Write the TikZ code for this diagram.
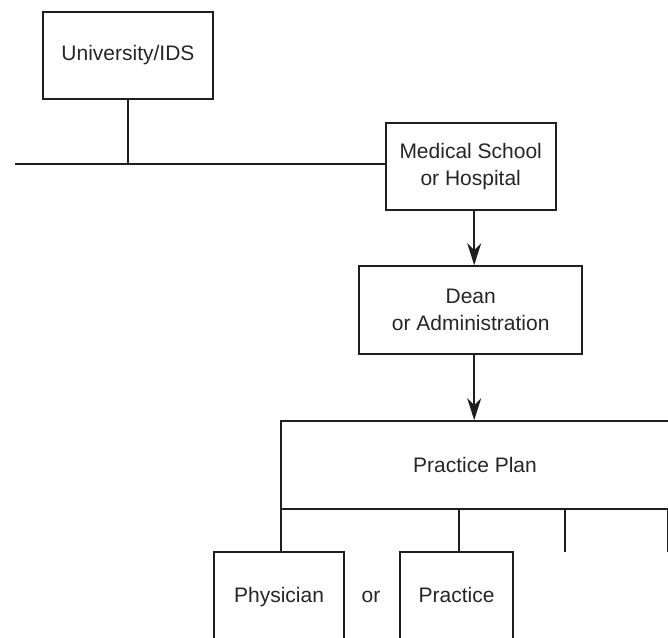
\documentclass[tikz,border=0pt]{standalone}
\usepackage{fontspec}
\setmainfont{Liberation Sans}
\usetikzlibrary{arrows.meta,calc}
\begin{document}
\begin{tikzpicture}[x=1pt,y=1pt,
  ink/.style={draw=black!88,line width=1.6pt},
  orgbox/.style={ink,rectangle,inner sep=0pt,align=center,text=black!85,
    font=\fontsize{21}{27}\selectfont},
  oneline/.style={text height=15pt,text depth=4.5pt},
  link/.style={ink},
  arr/.style={ink,-{Stealth[length=22pt,width=14pt,inset=7pt]}},
  label/.style={inner sep=0pt,text=black!85,font=\fontsize{21}{27}\selectfont}]
\useasboundingbox (0,0) rectangle (668,-637);
\clip (0,0) rectangle (668,-637);
\fill[white] (0,0) rectangle (668,-637);

% boxes
\node[orgbox,minimum width=170pt,minimum height=87pt] (uni) at (128,-55.5) {University/IDS};
\node[orgbox,minimum width=170pt,minimum height=87pt] (med) at (470.7,-166.5) {Medical School\\or Hospital};
\node[orgbox,minimum width=223pt,minimum height=88pt] (dean) at (470.7,-310) {Dean\\or Administration};
\node[orgbox,minimum width=388pt,minimum height=88pt] (plan) at (475,-465) {Practice Plan};
\node[orgbox,oneline,minimum width=130pt,minimum height=90pt] (phys) at (279,-597) {Physician};
\node[orgbox,oneline,minimum width=113pt,minimum height=90pt] (prac) at (456.5,-597) {Practice};
\node[label,oneline] (or) at (371,-597) {or};

% horizontal rule from the left margin into the medical school
\coordinate (left) at (15,-164);
\draw[link] (left) -- (left -| med.west);
\draw[link] (uni.south) -- (uni.south |- left);

% downward arrows
\draw[arr] ([xshift=3.5pt]med.south) -- ([xshift=3.5pt]dean.north);
\draw[arr] ([xshift=3.5pt]dean.south) -- ([xshift=3.5pt]dean.south |- plan.north);

% branches under the practice plan
\draw[link] (phys.north -| 281,0) -- (plan.south -| 281,0);
\draw[link] ([xshift=2.5pt]prac.north) -- ([xshift=2.5pt]prac.north |- plan.south);
\coordinate (b3) at (565,-552);
\coordinate (b4) at (668,-552);
\draw[link] (b3) -- (b3 |- plan.south);
\draw[link] (b4) -- (b4 |- plan.south);
\end{tikzpicture}
\end{document}
